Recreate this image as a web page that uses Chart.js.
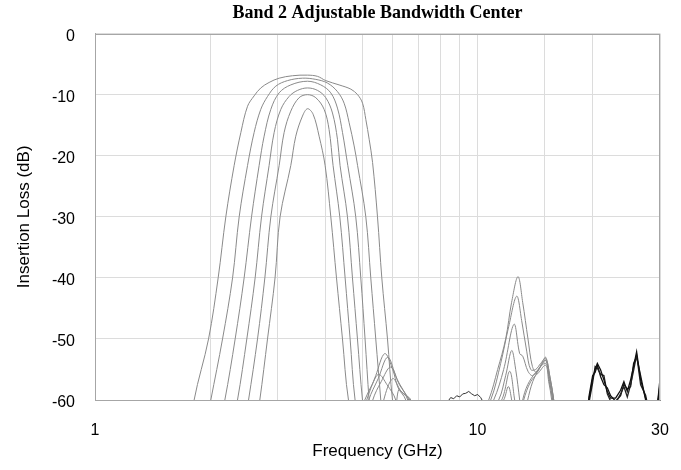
<!DOCTYPE html>
<html>
<head>
<meta charset="utf-8">
<script src="https://cdn.jsdelivr.net/npm/chart.js@4"></script>
<style>
  body { margin: 0; background: #fff; }
  #wrap { width: 681px; height: 470px; }
</style>
</head>
<body>
<div id="wrap"><canvas id="chart" width="681" height="470"></canvas></div>
<script>
// frequency in GHz, insertion loss in dB
const freq1 = [1.75, 1.816, 1.981, 2.099, 2.198, 2.311, 2.406, 2.505, 2.606, 2.713, 2.852, 3.030, 3.283, 3.594, 3.817, 4.012, 4.346, 4.666, 4.858, 5.006, 5.107, 5.209, 5.317, 5.477, 5.621, 5.817, 5.995,
  6.10, 6.225, 6.40, 6.691, 6.9, 8.5,
  10.697, 11.291, 11.848, 12.28, 12.76, 13.126, 13.552, 13.915, 14.281, 14.72, 15.077, 15.445, 15.821, 16.5];
const loss1 = [-68, -60, -50, -40, -30, -21.6, -16.2, -11.9, -10.2, -8.9, -8.0, -7.3, -6.9, -6.8, -7.0, -7.7, -8.4, -9.1, -10, -11.4, -14.1, -17.3, -21.1, -30, -40, -50, -60,
  -61.5, -58.3, -59, -60, -68, -75,
  -60, -55, -50, -44, -39.8, -44, -50, -54.5, -55.5, -54, -53, -56, -60, -70];

const freq2 = [1.90, 2.008, 2.155, 2.289, 2.382, 2.505, 2.606, 2.713, 2.825, 2.970, 3.186, 3.487, 3.778, 4.054, 4.304, 4.480, 4.618, 4.759, 4.858, 5.105, 5.260, 5.420, 5.586,
  5.63, 5.687, 6.003, 6.3, 6.650, 7.0, 8.5,
  10.826, 11.497, 12.064, 12.660, 13.047, 13.446, 13.773, 14.195, 14.631, 15.077, 15.445, 15.821, 16.5];
const loss2 = [-68, -60, -50, -40, -30, -21.6, -16.2, -12.4, -10.3, -8.6, -7.7, -7.3, -7.5, -8.1, -9.5, -11.4, -14.6, -18.4, -21.6, -30, -40, -50, -60,
  -63, -60, -56.5, -58.5, -60, -68, -75,
  -60, -54, -48, -43, -47, -52, -55, -55, -54, -53.2, -56, -60, -70];

const freq3 = [2.05, 2.185, 2.325, 2.454, 2.566, 2.686, 2.768, 2.882, 3.030, 3.250, 3.594, 3.893, 4.134, 4.304, 4.437, 4.580, 4.805, 4.953, 5.082, 5.207,
  5.26, 5.323, 5.6, 5.932, 6.25, 6.610, 7.0, 8.5,
  11.023, 11.706, 12.456, 12.891, 13.126, 13.552, 13.941, 14.631, 15.077, 15.445, 15.821, 16.5];
const loss3 = [-68, -60, -50, -40, -30, -21.6, -16.8, -12.4, -9.7, -8.4, -7.8, -8.4, -9.7, -12.2, -16.2, -21.6, -30, -40, -50, -60,
  -62.5, -60, -57, -54.6, -57.5, -60, -68, -75,
  -60, -55, -47.6, -52.4, -52.8, -55.3, -56, -54.5, -53.5, -56.5, -60, -70];

const freq4 = [2.22, 2.358, 2.494, 2.622, 2.725, 2.852, 2.940, 3.061, 3.217, 3.384, 3.594, 3.817, 4.012, 4.177, 4.304, 4.372, 4.571, 4.711, 4.855, 5.004,
  5.10, 5.196, 5.5, 5.826, 6.15, 6.571, 7.0, 8.5,
  11.359, 11.848, 12.284, 12.584, 12.891, 13.126, 13.527, 13.941, 14.455, 15.077, 15.445, 15.726, 16.3];
const loss4 = [-68, -60, -50, -40, -30, -21.6, -16.2, -12.4, -10.3, -9.3, -8.9, -9.3, -10.5, -13.0, -17.3, -21.6, -30, -40, -50, -60,
  -63, -60, -56.5, -53.0, -56.5, -60, -68, -75,
  -60, -56, -51.9, -55, -60, -64, -60, -57, -55, -53.5, -57, -60, -70];

const freq5 = [2.40, 2.520, 2.660, 2.780, 2.882, 3.030, 3.122, 3.250, 3.416, 3.594, 3.778, 3.972, 4.092, 4.192, 4.365, 4.507, 4.645, 4.786,
  4.95, 5.134, 5.42, 5.722, 6.0, 6.2, 6.493, 6.9, 8.5,
  11.566, 12.137, 12.508, 12.814, 13.126, 13.527, 14.195, 15.077, 15.398, 15.726, 16.3];
const loss5 = [-68, -60, -50, -40, -30, -21.6, -16.2, -12.7, -10.5, -10.0, -10.5, -12.4, -15.7, -21.6, -30, -40, -50, -60,
  -64, -60, -56, -52.4, -55, -58, -60, -68, -75,
  -60, -55.3, -60, -64, -60, -57.5, -55.5, -54, -57, -60, -70];

const freq6 = [2.58, 2.697, 2.825, 2.956, 3.047, 3.250, 3.349, 3.487, 3.594, 3.717, 3.854, 3.996, 4.135, 4.279, 4.436, 4.599,
  4.8, 5.073, 5.30, 5.518, 5.8, 6.113, 6.5, 8.5,
  11.706, 12.042, 12.284, 12.660, 13.205, 13.773, 14.455, 15.077, 15.352, 15.631, 16.2];
const loss6 = [-68, -60, -50, -40, -30, -21.6, -16.8, -13.5, -12.3, -13.2, -16.8, -21.6, -30, -40, -50, -60,
  -64, -60, -57.5, -55.8, -57.5, -60, -68, -75,
  -60, -57.8, -60, -65, -60, -57, -55.5, -54.3, -57, -60, -70];

// noisy traces near the noise floor
const noiseLowFreq = [8.308, 8.51, 8.665, 8.823, 8.985, 9.149, 9.316, 9.486, 9.657, 9.833, 10.012, 10.194, 10.38];
const noiseLowLoss = [-60.5, -59.6, -59.8, -59.3, -59.5, -59.0, -58.9, -58.6, -59.0, -59.3, -59.1, -59.6, -60.5];

const noiseHighFreq = [19.3, 19.556, 20.0, 20.3, 20.574, 20.987, 21.403, 21.846, 22.284, 22.963, 23.665, 24.14, 24.64, 25.134, 25.592, 26.061, 26.697, 27.513, 27.896, 29.518, 29.983, 30];
const noiseHighA = [-64, -60, -56.5, -55.0, -54.0, -55.1, -56.7, -58.6, -59.7, -59.7, -58.4, -57.0, -58.6, -56.7, -54.5, -52.1, -56.7, -59.7, -61, -61, -56.7, -55.6];
const noiseHighB = [-64, -60.5, -57.2, -54.5, -54.8, -55.8, -56.0, -59.0, -60.2, -60.5, -59.0, -57.8, -59.5, -57.5, -55.2, -52.6, -57.5, -59.2, -61, -61, -57.5, -56.2];
const noiseHighC = [-64, -59.5, -56.0, -55.5, -54.3, -56.2, -57.5, -58.0, -59.3, -60.2, -59.3, -57.4, -58.2, -57.8, -54.0, -52.9, -56.0, -60.0, -61, -61, -58.2, -56.8];

const xTickLabels = [1, 10, 30];
const yTicks = [0, -10, -20, -30, -40, -50, -60];

function pts(xs, ys) {
  return xs.map((x, i) => ({ x: x, y: ys[i] }));
}

function trace(xs, ys, color, tension, width) {
  return {
    data: pts(xs, ys),
    borderColor: color,
    borderWidth: width || 1,
    pointRadius: 0,
    fill: false,
    tension: tension
  };
}

const sans = '"Liberation Sans", Arial, sans-serif';

const frame = {
  id: 'frame',
  afterDatasetsDraw(chart) {
    const a = chart.chartArea;
    const ctx = chart.ctx;
    ctx.save();
    ctx.strokeStyle = '#a6a6a6';
    ctx.lineWidth = 1;
    ctx.strokeRect(Math.round(a.left) + 0.5, Math.round(a.top) + 0.5, Math.round(a.right - a.left) - 1, Math.round(a.bottom - a.top));
    ctx.restore();
  }
};

new Chart(document.getElementById('chart'), {
  type: 'line',
  data: {
    datasets: [
      trace(freq1, loss1, '#8a8a8a', 0.35),
      trace(freq2, loss2, '#8a8a8a', 0.35),
      trace(freq3, loss3, '#8a8a8a', 0.35),
      trace(freq4, loss4, '#8a8a8a', 0.35),
      trace(freq5, loss5, '#8a8a8a', 0.35),
      trace(freq6, loss6, '#8a8a8a', 0.35),
      trace(noiseLowFreq, noiseLowLoss, '#333', 0),
      trace(noiseHighFreq, noiseHighA, '#111', 0, 1.3),
      trace(noiseHighFreq, noiseHighB, '#222', 0, 1.3),
      trace(noiseHighFreq, noiseHighC, '#111', 0, 1.3)
    ]
  },
  options: {
    responsive: false,
    animation: false,
    layout: { padding: 0 },
    plugins: {
      legend: { display: false },
      tooltip: { enabled: false },
      title: {
        display: true,
        fullSize: false,
        text: 'Band 2 Adjustable Bandwidth Center',
        color: '#000',
        font: { family: '"Liberation Serif", "Times New Roman", serif', size: 18, weight: 'bold' },
        padding: { top: 3, bottom: 9 }
      }
    },
    scales: {
      x: {
        type: 'logarithmic',
        min: 1,
        max: 30,
        afterFit: (s) => { s.height = 70; s.paddingRight = 21; s.paddingLeft = 0; },
        grid: { color: '#dcdcdc', drawTicks: false },
        border: { color: '#8c8c8c' },
        ticks: {
          autoSkip: false,
          maxRotation: 0,
          padding: 21,
          color: '#000',
          font: { family: sans, size: 16 },
          callback: (v) => xTickLabels.includes(v) ? String(v) : ''
        },
        title: {
          display: true,
          text: 'Frequency (GHz)',
          color: '#000',
          font: { family: sans, size: 17 },
          padding: { top: 8, bottom: 8 }
        }
      },
      y: {
        min: yTicks[yTicks.length - 1],
        max: yTicks[0],
        afterFit: (s) => { s.width = 95; },
        afterBuildTicks: (s) => { s.ticks = yTicks.map(v => ({ value: v })); },
        grid: { color: '#dcdcdc', drawTicks: false },
        border: { color: '#a6a6a6' },
        ticks: {
          padding: 20,
          labelOffset: 3,
          color: '#000',
          font: { family: sans, size: 16 }
        },
        title: {
          display: true,
          text: 'Insertion Loss (dB)',
          color: '#000',
          font: { family: sans, size: 17 },
          padding: { top: 14, bottom: 0 }
        }
      }
    }
  },
  plugins: [frame]
});
</script>
</body>
</html>
